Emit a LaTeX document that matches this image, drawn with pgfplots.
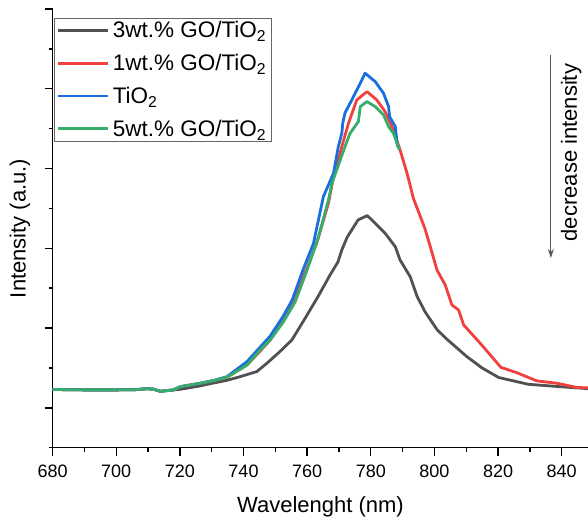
\documentclass[border=0pt]{standalone}
\usepackage{fontspec}
\setmainfont{Liberation Sans}
\usepackage{pgfplots}
\pgfplotsset{compat=1.18}
\usetikzlibrary{arrows.meta}
\definecolor{cgray}{HTML}{515151}
\definecolor{cred}{HTML}{F14040}
\definecolor{cblue}{HTML}{1A6FDF}
\definecolor{cgreen}{HTML}{37AD6B}
\begin{document}
\begin{tikzpicture}
\begin{axis}[name=ax, scale only axis, width=535.8pt, height=438.7pt,
 xmin=680, xmax=848.4, ymin=0, ymax=11000, clip=false,
 axis x line=bottom, axis y line=left, axis line style={line width=1.4pt, -},
 xtick={680,700,...,840}, minor xtick={690,710,...,850},
 ytick={1000,3000,...,11000}, minor ytick={0,2000,...,10000}, yticklabels={},
 scaled y ticks=false,
 tick align=outside, major tick length=8pt, minor tick length=4pt,
 every tick/.style={black, line width=1.4pt},
 /pgf/number format/assume math mode=true,
 /pgf/number format/1000 sep={},
 xticklabel style={font=\fontsize{18}{18}\selectfont, anchor=north, inner sep=0pt, yshift=-9pt},
 xlabel={Wavelenght (nm)}, ylabel={Intensity (a.u.)},
 xlabel style={font=\fontsize{22}{22}\selectfont, at={(axis description cs:0.5,0)}, anchor=north, inner sep=0pt, yshift=-49pt},
 ylabel style={font=\fontsize{22}{22}\selectfont, at={(axis description cs:-0.061,0.5)}, anchor=center, inner sep=0pt},
 legend style={at={(axis description cs:0.0035,0.980)}, anchor=north west, draw=black!60, line width=1pt,
   font=\fontsize{22.5}{22.5}\selectfont, inner xsep=2pt, inner ysep=2.3pt, row sep=13pt,
   nodes={inner xsep=3pt, inner ysep=1pt}},
 legend cell align=left,
 legend image code/.code={\draw[#1] (0pt,0pt) -- (50pt,0pt);},
 every axis plot/.append style={line width=2.8pt, line join=round, no marks},
]
\addplot[cgray] coordinates {(680,1460)(690,1450)(700,1450)(706,1455)(709.7,1480)(711.6,1470)(713.8,1415)(717.9,1447)(720.1,1465)(726.4,1550)(730.4,1620)(734.8,1690)(738.9,1780)(744.2,1910)(747.4,2120)(751.3,2400)(755.2,2701)(759.4,3250)(763.5,3800)(767.2,4330)(769.7,4660)(770.9,4960)(772.6,5280)(776.0,5711)(778.9,5819)(781.4,5628)(784.5,5377)(787.7,5041)(789.2,4707)(792.4,4285)(794.6,3785)(797.1,3403)(800.9,2952)(804.2,2701)(810.1,2290)(815.0,1999)(820.2,1760)(829.5,1590)(839.5,1530)(848.4,1480)};
\addlegendentry{3wt.\% GO/TiO\textsubscript{2}}
\addplot[cred] coordinates {(680,1460)(690,1450)(700,1450)(706,1455)(709.7,1480)(711.6,1470)(713.8,1415)(717.9,1447)(720.1,1530)(726.4,1615)(730.4,1680)(734.8,1766)(741.1,2074)(745.2,2420)(748.4,2700)(752.5,3200)(755.9,3704)(759.7,4457)(763.0,5126)(766.7,6130)(768.3,6797)(770.9,7549)(773.0,8136)(775.6,8720)(778.8,8928)(781.9,8720)(784.5,8427)(787.1,7968)(789.2,7466)(791.4,6882)(793.4,6250)(797.0,5500)(798.7,5041)(800.8,4457)(803.4,4081)(805.5,3579)(807.6,3453)(809.2,3077)(814.4,2618)(820.9,2015)(825.9,1881)(832.2,1675)(838.6,1615)(844.8,1510)(848.4,1500)};
\addlegendentry{1wt.\% GO/TiO\textsubscript{2}}
\addplot[cblue] coordinates {(680,1460)(690,1450)(700,1450)(706,1455)(709.7,1480)(711.6,1470)(713.8,1415)(717.9,1447)(720.1,1530)(726.4,1615)(730.4,1680)(734.8,1780)(741.1,2157)(745.2,2520)(748.4,2800)(752.5,3300)(755.3,3704)(758.7,4457)(762.0,5126)(765.1,6295)(768.3,6882)(769.8,7549)(770.9,7885)(771.2,8143)(771.9,8394)(773.5,8638)(776.7,9139)(778.2,9390)(781.4,9179)(784.0,8888)(785.6,8552)(785.9,8301)(787.7,8051)(788.4,7549)};
\addlegendentry{TiO\textsubscript{2}}
\addplot[cgreen] coordinates {(680,1460)(690,1450)(700,1450)(706,1455)(709.7,1480)(711.6,1470)(713.8,1415)(717.9,1447)(720.1,1530)(726.4,1615)(730.4,1680)(734.8,1766)(741.1,2074)(745.2,2450)(748.4,2701)(752.5,3150)(756.2,3650)(760.0,4457)(763.6,5292)(766.7,6212)(767.8,6631)(769.3,6965)(771.9,7549)(773.5,7885)(776.1,8176)(776.7,8552)(778.8,8678)(781.4,8552)(784.0,8344)(785.6,8051)(787.1,7885)(789.0,7466)};
\addlegendentry{5wt.\% GO/TiO\textsubscript{2}}
\draw[-{Stealth[length=9pt,width=6pt]}, black!65, line width=1pt] (axis cs:836.6,9849) -- (axis cs:836.6,4758);
\node[rotate=90, font=\fontsize{22}{22}\selectfont, inner sep=0pt] at (axis cs:843.0,7400) {decrease intensity};
\end{axis}
\pgfresetboundingbox
\path[use as bounding box] ([shift={(-52.6pt,-72.3pt)}]ax.south west) rectangle ++(588pt,520pt);
\end{tikzpicture}
\end{document}
